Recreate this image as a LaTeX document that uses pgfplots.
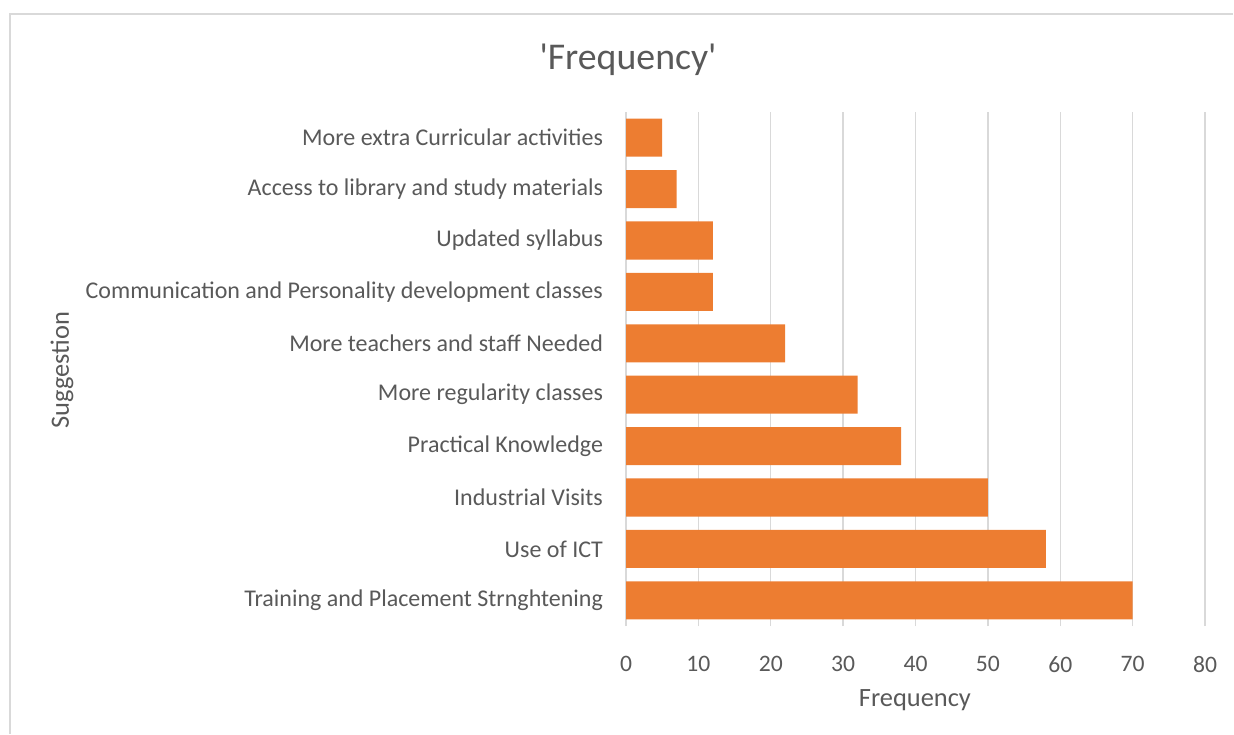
\documentclass[border=0pt]{standalone}
\usepackage{pgfplots}
\pgfplotsset{compat=1.18}
\usepackage{fontspec}
\setmainfont{Carlito}
\definecolor{barorange}{HTML}{ED7D31}
\definecolor{txt}{HTML}{595959}
\definecolor{gridc}{HTML}{D9D9D9}
\begin{document}
\begin{tikzpicture}[x=0.5pt,y=0.5pt]
% page is 1234 x 734 px, 1px = 0.5pt
\path[use as bounding box] (0,0) rectangle (1234,734);
\draw[gridc, line width=1.2pt] (10,0) -- (10,720) -- (1233,720);
\begin{axis}[
  at={(313pt,54pt)}, anchor=south west,
  scale only axis,
  width=289.5pt, height=257pt,
  xmin=0, xmax=80,
  ymin=-0.5, ymax=9.5,
  xtick={0,10,...,80},
  ytick={0,...,9},
  yticklabels={Training and Placement Strnghtening, Use of ICT, Industrial Visits,
    Practical Knowledge, More regularity classes, More teachers and staff Needed,
    Communication and Personality development classes, Updated syllabus,
    Access to library and study materials, More extra Curricular activities},
  xmajorgrids, grid style={gridc, line width=0.7pt},
  axis line style={draw=none},
  major tick length=0pt,
  tick label style={txt, font=\fontsize{12}{14}\selectfont},
  /pgf/number format/assume math mode=true,
  xticklabel style={yshift=-11.5pt, font=\fontsize{11.8}{13}\selectfont},
  yticklabel style={xshift=-8pt},
  xlabel={Frequency}, ylabel={Suggestion},
  label style={txt, font=\fontsize{13.2}{15}\selectfont},
  xlabel style={at={(axis description cs:0.499,-0.144)}, anchor=center},
  ylabel style={at={(axis description cs:-0.974,0.498)}, anchor=center},
  title={\textquotesingle Frequency\textquotesingle},
  title style={txt, font=\fontsize{18.9}{22}\selectfont, at={(axis description cs:0.0035,1.078)}, anchor=center},
]
\addplot[xbar, bar width=0.74, fill=barorange, draw=none] coordinates {
  (70,0) (58,1) (50,2) (38,3) (32,4) (22,5) (12,6) (12,7) (7,8) (5,9)
};
\end{axis}
\end{tikzpicture}
\end{document}
